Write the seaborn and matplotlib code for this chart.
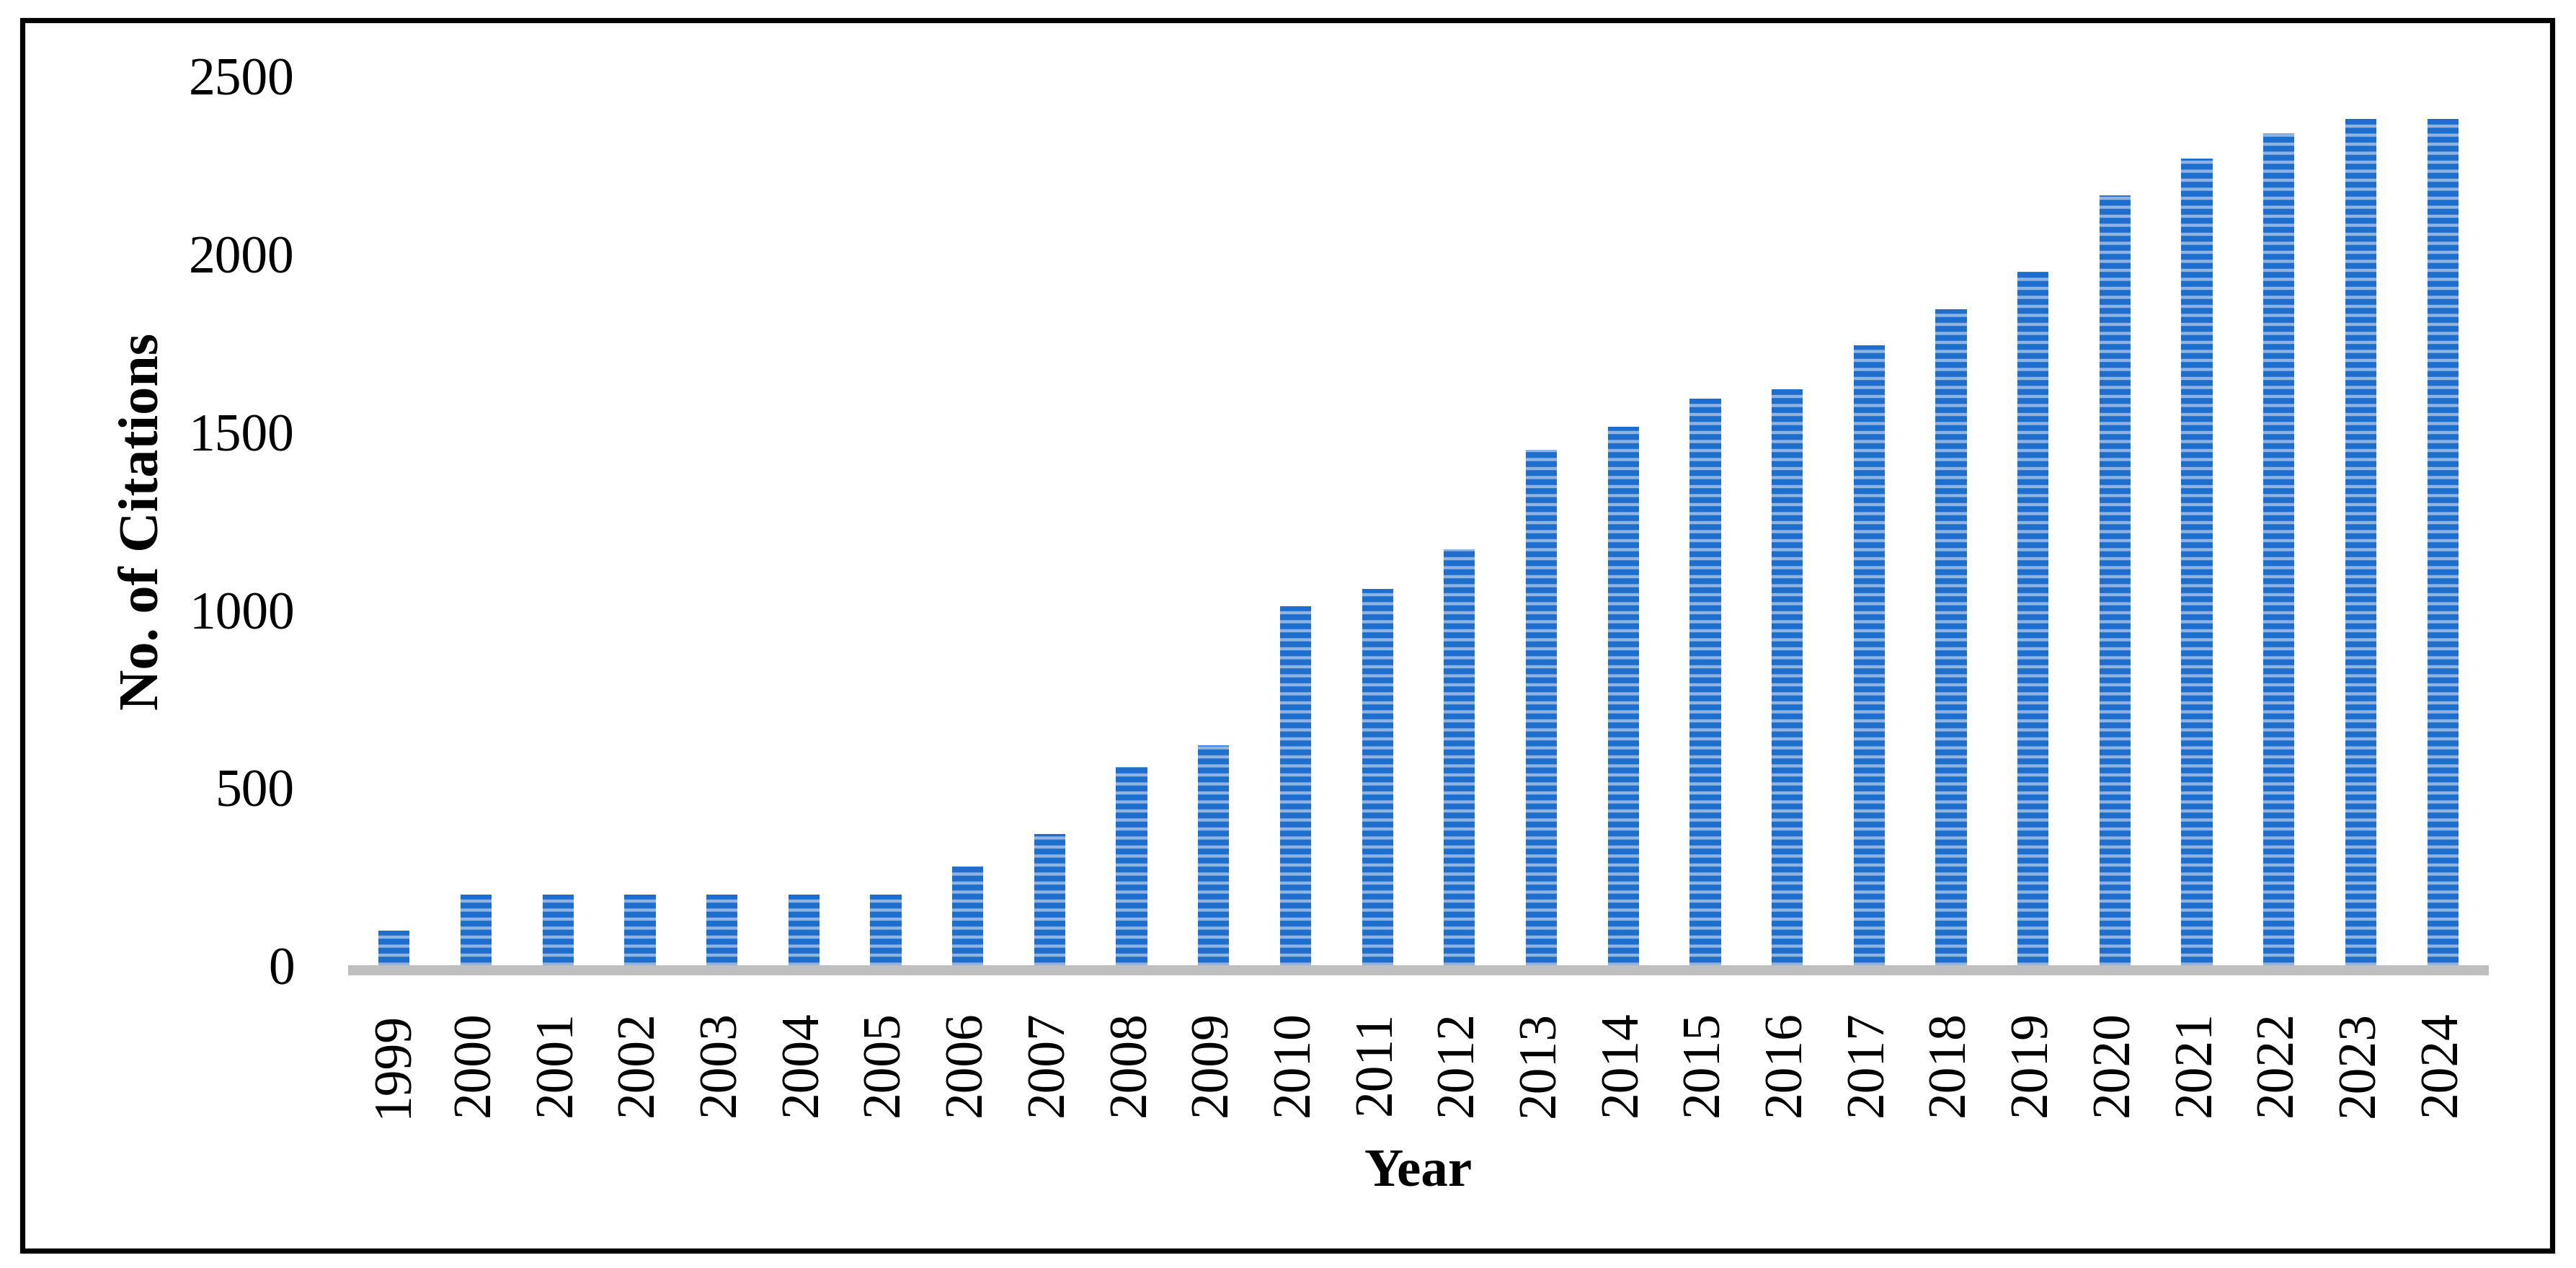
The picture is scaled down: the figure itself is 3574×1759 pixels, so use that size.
import matplotlib
matplotlib.use("Agg")
import matplotlib.pyplot as plt
import seaborn as sns
import pandas as pd
from matplotlib.patches import Rectangle

years = ["1999", "2000", "2001", "2002", "2003", "2004", "2005", "2006", "2007",
         "2008", "2009", "2010", "2011", "2012", "2013", "2014", "2015", "2016",
         "2017", "2018", "2019", "2020", "2021", "2022", "2023", "2024"]
citations = [100, 200, 200, 200, 200, 200, 200, 280, 370,
             560, 620, 1010, 1060, 1170, 1450, 1515, 1595, 1620,
             1745, 1845, 1950, 2165, 2270, 2340, 2380, 2380]
y_ticks = [0, 500, 1000, 1500, 2000, 2500]

DPI = 225
W, H = 3574, 1759
dark = "#1E6ECD"
light = "#8FB3E3"

sns.set_theme(style="white")
plt.rcParams["font.family"] = ["Liberation Serif", "DejaVu Serif"]
plt.rcParams["hatch.color"] = dark
plt.rcParams["hatch.linewidth"] = 2.6
plt.rcParams["text.color"] = "black"
plt.rcParams["axes.labelcolor"] = "black"
plt.rcParams["xtick.color"] = "black"
plt.rcParams["ytick.color"] = "black"

fig = plt.figure(figsize=(W / DPI, H / DPI), dpi=DPI)
ax = fig.add_axes([490 / W, 1 - 1340 / H, (3446 - 490) / W, (1340 - 106) / H])

df = pd.DataFrame({"Year": years, "Citations": citations})
sns.barplot(data=df, x="Year", y="Citations", ax=ax, color=light,
            saturation=1, width=0.38, edgecolor=dark, linewidth=0)
for p in ax.patches:
    p.set_hatch("---")
    p.set_edgecolor(dark)
    p.set_linewidth(0)

ax.set_xlim(-0.5, len(years) - 0.5)
ax.set_ylim(0, 2500)
ax.set_yticks(y_ticks)
ax.set_yticklabels([str(t) for t in y_ticks])

for s in ["top", "right", "left"]:
    ax.spines[s].set_visible(False)
ax.spines["bottom"].set_color("#BFBFBF")
ax.spines["bottom"].set_linewidth(4.5)
ax.spines["bottom"].set_position(("outward", 2))

ax.tick_params(axis="y", length=0, pad=26, labelsize=23.5, labelcolor="black")
ax.tick_params(axis="x", length=0, pad=18, labelsize=23.5, labelrotation=90,
               labelcolor="black")
ax.grid(False)

ax.set_xlabel("Year", fontsize=24, fontweight="bold", color="black")
ax.set_ylabel("No. of Citations", fontsize=25, fontweight="bold", color="black")
ax.xaxis.set_label_coords(0.5, -0.205)
ax.yaxis.set_label_coords(-0.086, 0.5)

fig.add_artist(Rectangle((31 / W, 1 - 1735 / H), (3541 - 31) / W, (1735 - 28) / H,
                         transform=fig.transFigure, fill=False,
                         edgecolor="black", linewidth=2.3))

fig.savefig("out.png", dpi=DPI, facecolor="white")
